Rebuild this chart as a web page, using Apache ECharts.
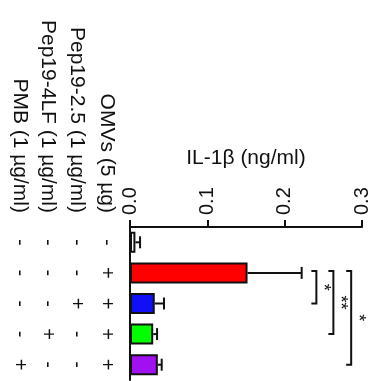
<!DOCTYPE html>
<html>
<head>
<meta charset="utf-8">
<script src="https://cdn.jsdelivr.net/npm/echarts@6/dist/echarts.min.js"></script>
<style>
html, body { margin: 0; padding: 0; background: #fff; }
#main { width: 379px; height: 381px; }
</style>
</head>
<body>
<div id="main"></div>
<script>
var groups = ['ctrl', 'omv', 'omv+pep25', 'omv+pep4lf', 'omv+pmb'];
var means = [0.007, 0.152, 0.032, 0.030, 0.036];
var errs = [0.006, 0.070, 0.012, 0.005, 0.005];
var colors = ['#ffffff', '#ff0000', '#1010f8', '#00ff00', '#a010f0'];
var ticks = [0, 0.1, 0.2, 0.3];

// treatment table (rows = groups)
var rowNames = ['PMB (1 µg/ml)', 'Pep19-4LF (1 µg/ml)', 'Pep19-2.5 (1 µg/ml)', 'OMVs (5 µg)'];
var pmb = ['-', '-', '-', '-', '+'];
var pep4lf = ['-', '-', '-', '+', '-'];
var pep25 = ['-', '-', '+', '-', '-'];
var omvs = ['-', '+', '+', '+', '+'];
var tableCols = [pmb, pep4lf, pep25, omvs];
var colX = [20, 48, 77, 107];

// significance brackets: [from, to, x value, label]
var sig = [[1, 2, 0.241, '*'], [1, 3, 0.263, '**'], [1, 4, 0.286, '*']];

var font = 'Liberation Sans, Arial, sans-serif';
var chart = echarts.init(document.getElementById('main'));

var graphics = [];
for (var i = 0; i < rowNames.length; i++) {
	graphics.push({
		type: 'text',
		x: colX[i],
		y: 213,
		rotation: -Math.PI / 2,
		style: {
			text: rowNames[i],
			font: '21px ' + font,
			fill: '#111',
			align: 'right',
			verticalAlign: 'middle'
		}
	});
}

// rotated text piece for custom series
function vText(x, y, txt, size) {
	return {
		type: 'group',
		x: x,
		y: y,
		rotation: -Math.PI / 2,
		children: [{
			type: 'text',
			style: {
				text: txt,
				font: size + 'px ' + font,
				fill: '#111',
				align: 'center',
				verticalAlign: 'middle'
			}
		}]
	};
}

option = {
	animation: false,
	grid: {
		left: 130,
		right: 17,
		top: 227,
		bottom: 1
	},
	xAxis: {
		type: 'value',
		position: 'top',
		min: 0,
		max: 0.3,
		interval: 0.1,
		name: 'IL-1β (ng/ml)',
		nameLocation: 'middle',
		nameGap: 58,
		nameTextStyle: {
			fontSize: 21,
			fontFamily: font,
			color: '#111'
		},
		axisLine: { show: true, lineStyle: { color: '#111', width: 2 } },
		axisTick: { show: true, length: 7, lineStyle: { color: '#111', width: 2 } },
		axisLabel: {
			rotate: -90,
			margin: 12,
			fontSize: 20,
			fontFamily: font,
			color: '#111',
			formatter: function (v) { return v.toFixed(1); }
		},
		splitLine: { show: false }
	},
	yAxis: {
		type: 'category',
		inverse: true,
		data: groups,
		axisLine: { lineStyle: { color: '#111', width: 2 } },
		axisTick: { alignWithLabel: true, length: 6, lineStyle: { color: '#111', width: 2 } },
		axisLabel: { show: false }
	},
	graphic: graphics,
	series: [{
		type: 'bar',
		barWidth: 21,
		data: means.map(function (v, i) {
			return {
				value: v,
				itemStyle: { color: colors[i], borderColor: '#111', borderWidth: 2 }
			};
		}),
		z: 3
	}, {
		type: 'custom',
		z: 2,
		data: means.map(function (v, i) { return [i, v, v + errs[i]]; }),
		encode: { x: [1, 2], y: 0 },
		renderItem: function (params, api) {
			var a = api.coord([api.value(1), api.value(0)]);
			var b = api.coord([api.value(2), api.value(0)]);
			var st = { stroke: '#111', lineWidth: 2 };
			return {
				type: 'group',
				children: [
					{ type: 'line', shape: { x1: a[0], y1: a[1], x2: b[0], y2: b[1] }, style: st },
					{ type: 'line', shape: { x1: b[0], y1: b[1] - 6, x2: b[0], y2: b[1] + 6 }, style: st }
				]
			};
		}
	}, {
		type: 'custom',
		clip: false,
		silent: true,
		data: groups.map(function (g, i) { return [i]; }),
		encode: { y: 0 },
		renderItem: function (params, api) {
			var i = params.dataIndex;
			var y = api.coord([0, i])[1];
			var kids = [];
			for (var c = 0; c < tableCols.length; c++) {
				kids.push(vText(colX[c], y, tableCols[c][i], 20));
			}
			return { type: 'group', children: kids };
		}
	}, {
		type: 'custom',
		clip: false,
		silent: true,
		data: sig,
		encode: { x: 2, y: [0, 1] },
		renderItem: function (params, api) {
			var p1 = api.coord([api.value(2), api.value(0)]);
			var p2 = api.coord([api.value(2), api.value(1)]);
			var st = { stroke: '#111', lineWidth: 2, fill: null };
			var x = p1[0];
			return {
				type: 'group',
				children: [
					{ type: 'polyline', shape: { points: [[x - 5, p1[1] - 2], [x, p1[1] - 2], [x, p2[1]], [x - 5, p2[1]]] }, style: st },
					vText(x + 7, (p1[1] + p2[1]) / 2 - 1, sig[params.dataIndex][3], 18)
				]
			};
		}
	}]
};
chart.setOption(option);
window.onresize = chart.resize;
</script>
</body>
</html>
